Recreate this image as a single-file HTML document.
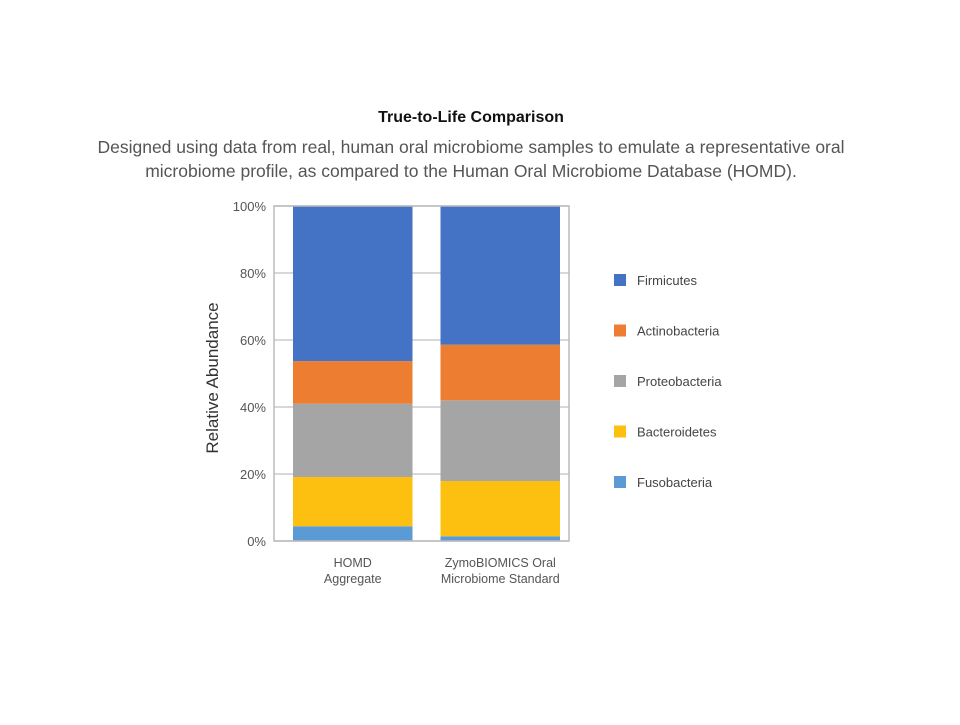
<!DOCTYPE html>
<html><head><meta charset="utf-8"><style>
body{margin:0;background:#fff;width:960px;height:720px;overflow:hidden;font-family:"Liberation Sans",sans-serif}
</style></head><body>
<svg width="960" height="720" font-family="Liberation Sans, sans-serif">
<text x="471" y="122" text-anchor="middle" font-size="16" font-weight="bold" fill="#111">True-to-Life Comparison</text>
<text x="471" y="153" text-anchor="middle" font-size="17.5" fill="#555">Designed using data from real, human oral microbiome samples to emulate a representative oral</text>
<text x="471" y="177" text-anchor="middle" font-size="17.5" fill="#555">microbiome profile, as compared to the Human Oral Microbiome Database (HOMD).</text>
<g id="grid"></g><g id="bars"></g><g id="legend"></g>
<rect x="274" y="206" width="295" height="335" fill="none" stroke="#bbb" stroke-width="1.5"/>
<text transform="translate(218,378) rotate(-90)" text-anchor="middle" font-size="17" fill="#333">Relative Abundance</text>
</svg>
<script>
const categories=["HOMD|Aggregate","ZymoBIOMICS Oral|Microbiome Standard"];
const seriesNames=["Fusobacteria","Bacteroidetes","Proteobacteria","Actinobacteria","Firmicutes"];
const fuso=[4.4,1.4];
const bact=[14.7,16.5];
const proteo=[21.9,24.1];
const actino=[12.7,16.6];
const firm=[46.3,41.4];
const yTicks=[0,20,40,60,80,100];
const colors=["#5b9bd5","#fdc010","#a5a5a5","#ed7d31","#4472c4"];
const NS="http://www.w3.org/2000/svg";
const y0=541,y1=206,left=274,right=569;
const y=v=>y0-(v/100)*(y0-y1);
const bandW=(right-left)/categories.length;
const x=i=>left+i*bandW+19;
const bw=bandW-28;
function mk(t,a,p){const e=document.createElementNS(NS,t);for(const k in a)e.setAttribute(k,a[k]);p.appendChild(e);return e;}
const grid=document.getElementById('grid');
yTicks.forEach(t=>{
 const l=mk('line',{x1:left,x2:right,y1:y(t),y2:y(t),stroke:'#ccc','stroke-width':1.5},grid);
 
 
 const tx=mk('text',{x:266,y:y(t)+5,'text-anchor':'end','font-size':13,fill:'#555'},grid);
 tx.textContent=t+'%';
 
 
});
const series=[fuso,bact,proteo,actino,firm];
const bars=document.getElementById('bars');
categories.forEach((c,i)=>{
 let acc=0;
 series.forEach((s,j)=>{
  const r=mk('rect',{x:x(i),y:y(acc+s[i]),width:bw,height:y(acc)-y(acc+s[i]),fill:colors[j]},bars);
  
  
  acc+=s[i];
 });
 c.split('|').forEach((ln,k)=>{
  const t=mk('text',{x:x(i)+bw/2,y:567+k*16,'text-anchor':'middle','font-size':12.5,fill:'#555'},bars);
  t.textContent=ln;
  
  
 });
});
const lg=document.getElementById('legend');
for(let j=4;j>=0;j--){
 const k=4-j, yy=280+k*50.5;
 const g=mk('g',{},lg);
 
 
 mk('rect',{x:614,y:yy-6,width:12,height:12,fill:colors[j]},g);
 const t=mk('text',{x:637,y:yy+5,'font-size':13,fill:'#444'},g);
 t.textContent=seriesNames[j];
}
</script>
</body></html>
